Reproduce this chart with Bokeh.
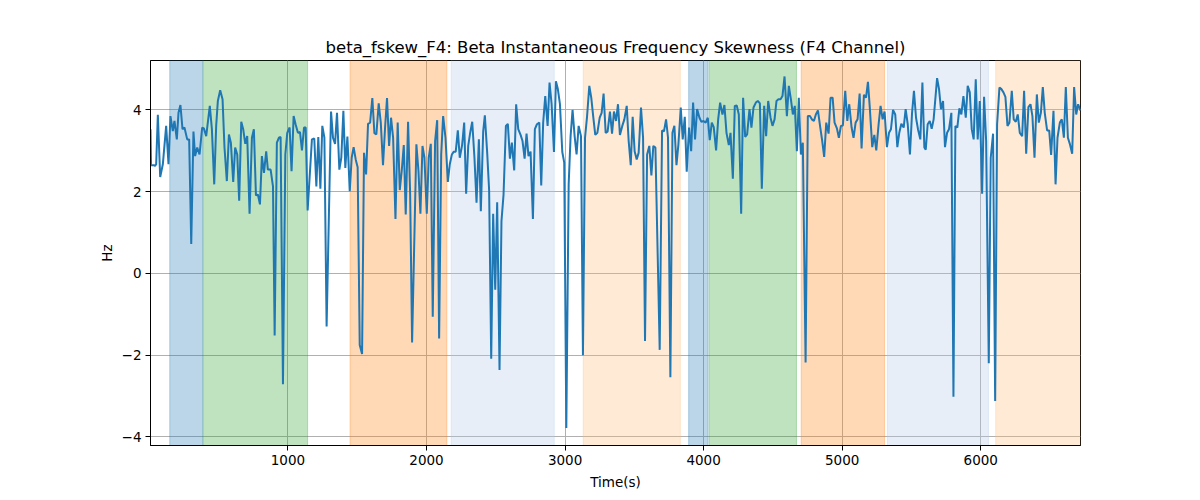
from bokeh.embed import file_html
from bokeh.models import CustomJSTickFormatter, FixedTicker, Range1d
from bokeh.plotting import figure
from bokeh.resources import INLINE


TITLE = "beta_fskew_F4: Beta Instantaneous Frequency Skewness (F4 Channel)"
FONT = "DejaVu Sans"

# time axis (seconds) and skewness values
time_s = [
	8, 12, 32, 41, 49, 61, 78, 97, 121, 138, 152, 169, 181, 198, 210, 224, 239, 253, 273, 287,
	302, 318, 330, 345, 362, 381, 393, 410, 436, 451, 468, 482, 494, 511, 528, 542, 559, 574, 588, 605,
	619, 634, 648, 663, 677, 692, 706, 723, 740, 754, 769, 783, 798, 812, 827, 843, 855, 875, 892, 904,
	920, 935, 947, 964, 981, 995, 1012, 1026, 1041, 1055, 1072, 1087, 1101, 1116,
	1128, 1142, 1173, 1190, 1205, 1219, 1234, 1248, 1263, 1279, 1311, 1325, 1340, 1354, 1371, 1385,
	1400, 1414, 1429, 1446, 1460, 1474, 1489, 1503, 1518, 1535, 1549, 1564, 1578, 1593, 1609, 1624,
	1638, 1655, 1670, 1686, 1701, 1715, 1730, 1744, 1759, 1776, 1792, 1807, 1821, 1836, 1850, 1867,
	1882, 1896, 1927, 1942, 1956, 1971, 1985, 2002, 2016, 2031, 2045, 2062, 2077, 2091, 2106, 2120,
	2137, 2154, 2168, 2183, 2197, 2211, 2226, 2240,
	2257, 2272, 2286, 2301, 2315, 2330, 2346, 2361, 2378, 2392, 2409, 2421, 2438, 2452, 2467, 2481,
	2496, 2510, 2527, 2541, 2556, 2573, 2587, 2602, 2616, 2633, 2647, 2662, 2679, 2693, 2708, 2722,
	2736, 2751, 2768, 2782, 2797, 2814, 2828, 2842, 2857, 2874, 2888, 2903, 2920, 2934, 2948, 2963,
	2980, 2994, 3009, 3026, 3040, 3054, 3069, 3083, 3098, 3115, 3129, 3144, 3158, 3175, 3189, 3204,
	3218, 3233, 3250, 3264, 3278, 3293, 3307, 3324, 3339, 3353,
	3368, 3382, 3396, 3413, 3428, 3445, 3459, 3474, 3488, 3502, 3517, 3531, 3548, 3563, 3577, 3592,
	3608, 3623, 3637, 3652, 3683, 3700, 3714, 3729, 3743, 3760, 3775, 3789, 3804, 3818, 3835, 3849,
	3864, 3878, 3895, 3910, 3924, 3938, 3953, 3970, 3984, 3999, 4015, 4030, 4044, 4059, 4073, 4090,
	4105, 4119, 4136, 4150, 4165, 4182, 4194, 4211, 4225, 4239, 4254, 4271, 4285, 4300, 4314, 4331,
	4345, 4360, 4377, 4391, 4406, 4420, 4437, 4451, 4466,
	4483, 4497, 4512, 4526, 4540, 4555, 4569, 4584, 4601, 4615, 4630, 4644, 4658, 4673, 4687, 4702,
	4716, 4736, 4752, 4767, 4781, 4796, 4810, 4825, 4842, 4856, 4870, 4885, 4902, 4916, 4931, 4945,
	4962, 4976, 4991, 5005, 5022, 5037, 5051, 5068, 5082, 5097, 5111, 5126, 5140, 5157, 5172, 5186,
	5200, 5217, 5232, 5246, 5263, 5277, 5292, 5306, 5323, 5338, 5352, 5367, 5383, 5398, 5412, 5427,
	5444, 5458, 5473, 5489, 5504, 5518, 5533, 5547, 5564, 5579, 5593,
	5603, 5617, 5632, 5646, 5660, 5685, 5699, 5713, 5728, 5742, 5757, 5771, 5788, 5803, 5817, 5831,
	5846, 5860, 5875, 5892, 5906, 5921, 5935, 5949, 5964, 5978, 5993, 6010, 6024, 6039, 6058, 6072,
	6089, 6104, 6118, 6135, 6149, 6164, 6178, 6193, 6207, 6224, 6238, 6253, 6267, 6282, 6299, 6313,
	6328, 6344, 6359, 6373, 6388, 6405, 6419, 6434, 6448, 6462, 6479, 6494, 6508, 6525, 6540, 6554,
	6571, 6585, 6600, 6614, 6629, 6643, 6660, 6674, 6689, 6703, 6720,
]

skew_hz = [
	3.53, 2.65, 2.65, 2.63, 2.67, 3.88, 2.36, 2.67, 3.61, 2.67, 3.85, 3.48, 3.73, 3.28, 3.93, 4.12, 3.53, 3.57, 3.28, 3.28,
	0.72, 3.47, 2.87, 3.08, 2.91, 3.57, 3.55, 3.36, 4.10, 3.53, 2.18, 3.61, 4.22, 4.48, 4.26, 3.08, 2.26, 3.40, 3.20, 2.24,
	3.08, 2.91, 1.78, 3.71, 3.53, 3.17, 3.36, 1.46, 3.32, 3.53, 1.91, 1.93, 1.69, 2.87, 2.46, 2.99, 2.54, 2.54, 2.13, -1.52,
	3.20, 3.32, 3.34, -2.71, 2.91, 3.44, 3.57, 2.50, 3.85, 3.65, 3.44, 3.46, 3.01, 3.57,
	3.57, 1.54, 3.28, 3.30, 2.13, 3.34, 2.07, 3.61, 3.32, -1.30, 3.96, 3.32, 3.17, 3.93, 2.54, 2.83,
	3.98, 2.58, 3.35, 2.01, 2.83, 3.09, 2.79, 2.60, -1.75, -1.97, 2.95, 2.42, 3.66, 3.69, 4.29, 3.43,
	3.40, 4.16, 3.69, 2.65, 3.57, 4.29, 3.12, 3.81, 3.32, 1.33, 3.69, 2.04, 2.50, 3.14, 1.44, 3.71,
	1.93, -1.69, 3.16, 2.50, 1.46, 3.12, 2.83, 1.46, 2.83, 3.17, -1.06, 3.24, 3.75, -1.59, 2.91, 3.85,
	3.32, 2.24, 2.67, 2.91, 2.98, 2.98, 3.50, 2.83,
	3.14, 3.69, 1.95, 3.12, 3.44, 3.71, 2.83, 1.73, 3.28, 1.52, 3.47, 3.87, 2.95, 2.03, -2.09, 1.46,
	-0.40, 1.74, -2.36, 1.28, 1.93, 3.61, 3.66, 2.81, 3.20, 2.52, 4.14, 3.53, 3.39, 3.24, 2.81, 3.42,
	2.87, 2.98, 1.33, 3.53, 3.65, 3.69, 2.15, 3.69, 4.34, 3.61, 4.67, 4.14, 2.97, 4.70, 4.51, 4.14,
	2.97, 2.71, -3.78, 2.18, 3.36, 4.00, 3.36, 2.91, 3.61, 3.36, -2.00, 3.32, 3.81, 4.59, 4.30, 3.81,
	3.39, 3.44, 3.81, 3.93, 4.40, 3.44, 3.47, 3.96, 3.42, 3.96,
	3.73, 4.14, 3.39, 3.61, 3.77, 4.10, 3.24, 2.65, 3.83, 2.99, 2.79, 2.95, 4.06, 3.32, -1.65, 2.91,
	3.12, 2.40, 3.12, 3.08, -1.87, 3.50, 3.48, 3.77, 3.32, -2.54, 3.44, 3.61, 2.65, 3.16, 4.06, 3.28,
	3.83, 2.49, 3.57, 2.99, 4.18, 3.28, 4.02, 3.81, 3.71, 3.73, 3.69, 3.81, 3.26, 3.69, 3.58, 3.01,
	3.77, 4.18, 3.89, 4.12, 3.44, 3.14, 3.44, 2.32, 4.10, 4.11, 3.89, 1.46, 4.30, 3.34, 3.40, 4.02,
	3.57, 4.06, 4.18, 4.22, 4.16, 2.07, 4.10, 3.36, 4.22,
	3.81, 3.61, 3.77, 4.22, 4.26, 4.26, 4.34, 4.82, 3.85, 4.59, 4.26, 3.89, 4.10, 2.99, 4.30, 2.91,
	3.20, -2.18, 3.85, 3.85, 3.77, 3.73, 3.89, 3.99, 3.57, 3.24, 2.85, 3.69, 3.42, 4.30, 4.30, 3.69,
	3.55, 3.32, 3.61, 3.62, 4.47, 3.73, 4.14, 3.57, 3.32, 3.69, 3.77, 4.40, 3.06, 4.37, 4.30, 4.69,
	4.02, 3.09, 3.39, 3.01, 3.65, 4.10, 3.77, 3.96, 3.09, 3.44, 3.53, 4.00, 3.89, 3.09, 3.44, 3.66,
	3.57, 4.02, 3.65, 2.91, 3.91, 4.47, 3.81, 3.53, 3.28, 4.67, 3.08,
	3.03, 3.65, 3.73, 3.54, 3.77, 4.78, 4.51, 4.02, 4.22, 3.09, 3.44, 3.53, 3.93, -3.02, 3.61, 3.57,
	4.04, 3.89, 4.34, 3.81, 4.59, 4.43, 3.53, 3.28, 4.75, 3.28, 4.22, 1.95, 4.32, 3.24, -2.20, 2.83,
	3.42, -3.12, 3.65, 4.55, 4.51, 4.43, 4.32, 3.61, 3.69, 4.47, 3.77, 3.71, 3.89, 3.44, 3.36, 4.47,
	2.93, 4.07, 4.14, 3.85, 2.83, 4.38, 3.69, 3.93, 4.56, 3.93, 3.50, 3.50, 2.90, 3.98, 2.18, 3.32,
	3.69, 3.77, 3.32, 4.56, 3.32, 3.17, 2.93, 4.56, 3.89, 4.14, 3.98,
]

# shaded segments (seconds)
band_starts = [147, 388, 1448, 2178, 3131, 3892, 4040, 4704, 5326, 6108]
band_ends = [384, 1142, 2147, 2922, 3832, 4032, 4670, 5306, 6056, 6760]

x_ticks = [1000, 2000, 3000, 4000, 5000, 6000]
y_ticks = [-4, -2, 0, 2, 4]

# band colours repeat in this order
BAND_PALETTE = ["#1f77b4", "#2ca02c", "#ff7f0e", "#aec7e8", "#ffbb78"]


def build_chart():
	p = figure(
		title=TITLE,
		frame_width=930,
		frame_height=385,
		min_border_left=150,
		min_border_right=120,
		min_border_top=60,
		min_border_bottom=55,
		x_range=Range1d(time_s[0], time_s[-1]),
		y_range=Range1d(-4.21, 5.21),
		output_backend="svg",
		toolbar_location=None,
		x_axis_label="Time(s)",
		y_axis_label="Hz",
	)

	band_colors = [BAND_PALETTE[i % len(BAND_PALETTE)] for i in range(len(band_starts))]
	p.quad(
		left=band_starts, right=band_ends, bottom=-10, top=10,
		fill_color=band_colors, fill_alpha=0.3,
		line_color=band_colors, line_alpha=0.3, line_width=1,
	)

	p.line(time_s, skew_hz, line_color="#1f77b4", line_width=2)

	p.title.align = "center"
	p.title.text_font = FONT
	p.title.text_font_size = "16.5px"
	p.title.text_font_style = "normal"
	p.title.text_color = "black"
	p.title.standoff = 7

	p.xaxis.ticker = FixedTicker(ticks=x_ticks)
	p.yaxis.ticker = FixedTicker(ticks=y_ticks)
	p.yaxis.formatter = CustomJSTickFormatter(code="return tick.toString().replace('-', '\u2212')")

	for axis in (p.xaxis, p.yaxis):
		axis.axis_line_color = "black"
		axis.major_tick_line_color = "black"
		axis.major_tick_out = 5
		axis.major_tick_in = 0
		axis.minor_tick_line_color = None
		axis.major_label_text_font = FONT
		axis.major_label_text_font_size = "13.5px"
		axis.major_label_text_color = "black"
		axis.axis_label_text_font = FONT
		axis.axis_label_text_font_size = "13.5px"
		axis.axis_label_text_font_style = "normal"
		axis.axis_label_text_color = "black"
		axis.major_label_standoff = 4
	p.xaxis.axis_label_standoff = 6
	p.yaxis.axis_label_standoff = 4

	p.grid.grid_line_color = "#b0b0b0"
	p.grid.grid_line_width = 1
	p.xgrid.ticker = FixedTicker(ticks=x_ticks)
	p.ygrid.ticker = FixedTicker(ticks=y_ticks)

	p.outline_line_color = "black"
	p.outline_line_alpha = 1
	p.background_fill_color = "white"
	p.border_fill_color = "white"
	return p


def main():
	p = build_chart()
	open("out.html", "w").write(file_html(p, INLINE))


if __name__ == "__main__":
	main()
